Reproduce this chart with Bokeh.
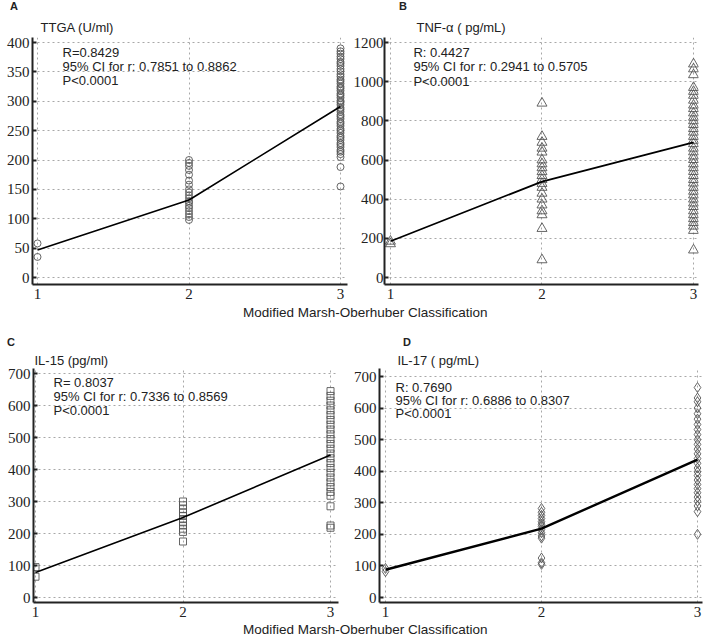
from bokeh.plotting import figure
from bokeh.models import Range1d, FixedTicker, Label, Div, Title
from bokeh.layouts import column, row
from bokeh.embed import file_html
from bokeh.resources import INLINE

# ---------------- data ----------------
groups = [1, 2, 3]
x_label = "Modified Marsh-Oberhuber Classification"

ttga_g1 = [58, 35]
ttga_g2 = [200, 195, 190, 183, 175, 165, 158, 150, 145, 140, 135, 130, 127, 122, 118, 113, 108, 103, 98]
ttga_g3 = [390, 385, 381, 376, 372, 367, 364, 360, 355, 351, 346, 342, 337, 334, 330, 325, 322, 318, 313,
           310, 306, 301, 298, 294, 289, 286, 282, 277, 274, 270, 265, 262, 258, 253, 250, 246, 241, 238,
           234, 229, 226, 222, 217, 214, 210, 205, 188, 155]
ttga_mean = [47, 132, 291]
ttga_ticks = [0, 50, 100, 150, 200, 250, 300, 350, 400]

tnf_g1 = [185, 172]
tnf_g2 = [890, 720, 690, 660, 640, 600, 580, 560, 540, 520, 500, 480, 460, 430, 400, 370, 340, 320, 250, 90]
tnf_g3 = [1090, 1065, 1035, 970, 950, 930, 905, 880, 862, 840, 818, 800, 781, 760, 742, 720, 700, 683,
          660, 641, 620, 602, 580, 560, 541, 520, 500, 482, 460, 440, 421, 400, 380, 362, 340, 320, 300,
          280, 262, 240, 140]
tnf_mean = [185, 490, 690]
tnf_ticks = [0, 200, 400, 600, 800, 1000, 1200]

il15_g1 = [95, 65]
il15_g2 = [300, 288, 276, 265, 255, 245, 235, 225, 215, 205, 175]
il15_g3 = [645, 630, 615, 600, 585, 570, 555, 540, 525, 510, 495, 480, 465, 450, 435, 420, 405, 390,
           375, 360, 345, 330, 318, 285, 225, 218]
il15_mean = [78, 250, 445]
il15_ticks = [0, 100, 200, 300, 400, 500, 600, 700]

il17_g1 = [92, 82]
il17_g2 = [282, 270, 260, 250, 240, 232, 225, 215, 205, 195, 188, 125, 110, 105]
il17_g3 = [665, 632, 620, 600, 582, 565, 548, 532, 516, 500, 485, 470, 455, 440, 425, 410, 398, 386,
           372, 358, 345, 332, 318, 305, 290, 272, 200]
il17_mean = [88, 218, 437]
il17_ticks = [0, 100, 200, 300, 400, 500, 600, 700]

panel_letters = ["A", "B", "C", "D"]
panel_titles = ["TTGA (U/ml)", "TNF-\u03b1 ( pg/mL)", "IL-15 (pg/ml)", "IL-17 ( pg/mL)"]
stats_A = ["R=0.8429", "95% CI for r: 0.7851 to 0.8862", "P<0.0001"]
stats_B = ["R: 0.4427", "95% CI for r: 0.2941  to 0.5705", "P<0.0001"]
stats_C = ["R= 0.8037", "95% CI for r: 0.7336 to 0.8569", "P<0.0001"]
stats_D = ["R: 0.7690", "95% CI for r: 0.6886 to 0.8307", "P<0.0001"]

SANS = "Liberation Sans"
SERIF = "Liberation Serif"
TXT = "#222222"


def panel(fig_box, frame_box, xa, ya, yticks, marker, msize, g1, g2, g3, means, line_w,
          title, title_off, title_standoff, stats, stats_x, stats_y, ylab_standoff=3):
    fx, fy, fw, fh = fig_box
    fl, ft, fr, fb = frame_box
    sx = (xa[1][1] - xa[0][1]) / (xa[1][0] - xa[0][0])
    sy = (ya[0][1] - ya[1][1]) / (ya[1][0] - ya[0][0])
    x_start = xa[0][0] - (xa[0][1] - fl) / sx
    x_end = xa[1][0] + (fr - xa[1][1]) / sx
    y_start = ya[0][0] - (fb - ya[0][1]) / sy
    y_end = ya[1][0] + (ya[1][1] - ft) / sy

    def dx(px):
        return xa[0][0] + (px - xa[0][1]) / sx

    def dy(py):
        return ya[0][0] + (ya[0][1] - py) / sy

    p = figure(width=fw, height=fh, x_range=Range1d(x_start, x_end), y_range=Range1d(y_start, y_end),
               output_backend="svg", toolbar_location=None,
               min_border_left=fl - fx, min_border_right=fx + fw - fr,
               min_border_top=ft - fy, min_border_bottom=fy + fh - fb)
    p.outline_line_color = None
    p.background_fill_color = "white"
    p.border_fill_color = "white"

    p.xaxis.ticker = FixedTicker(ticks=groups)
    p.yaxis.ticker = FixedTicker(ticks=yticks)
    p.xgrid.ticker = FixedTicker(ticks=groups)
    p.ygrid.ticker = FixedTicker(ticks=yticks)
    p.grid.grid_line_color = "#a8a8a8"
    p.grid.grid_line_dash = "2 3"
    p.grid.grid_line_width = 1
    for ax in (p.xaxis, p.yaxis):
        ax.axis_line_color = TXT
        ax.axis_line_width = 2
        ax.major_tick_line_color = TXT
        ax.major_tick_line_width = 2
        ax.major_tick_in = 4
        ax.major_tick_out = 0
        ax.minor_tick_line_color = None
        ax.major_label_text_font = SERIF
        ax.major_label_text_font_size = "15px"
        ax.major_label_text_color = TXT
    p.yaxis.major_label_standoff = ylab_standoff
    p.xaxis.major_tick_in = 0
    p.xaxis.major_label_standoff = 4

    pts_x = [groups[0]] * len(g1) + [groups[1]] * len(g2) + [groups[2]] * len(g3)
    pts_y = list(g1) + list(g2) + list(g3)
    p.scatter(pts_x, pts_y, marker=marker, size=msize, fill_color=None,
              line_color="#555555", line_width=0.9)
    p.line(groups, means, line_color="black", line_width=line_w)

    p.add_layout(Title(text=title, align="left", offset=title_off, standoff=title_standoff,
                       text_font=SANS, text_font_size="13px", text_font_style="normal",
                       text_color=TXT), "above")
    for s, yy in zip(stats, stats_y):
        p.add_layout(Label(x=dx(stats_x), y=dy(yy), text=s, text_font=SANS,
                           text_font_size="13px", text_color=TXT,
                           text_baseline="middle", text_align="left"))
    return p


pA = panel((0, 14, 350, 292), (32, 37, 347, 284), ((1, 37), (3, 340)), ((0, 277), (400, 42)),
           ttga_ticks, "circle", 7, ttga_g1, ttga_g2, ttga_g3, ttga_mean, 1.6,
           panel_titles[0], 8, 5, stats_A, 62, (52, 66, 80))
pB = panel((350, 14, 358, 292), (383, 37, 698, 284), ((1, 389), (3, 693)), ((0, 277), (1200, 42)),
           tnf_ticks, "triangle", 10, tnf_g1, tnf_g2, tnf_g3, tnf_mean, 1.8,
           panel_titles[1], 32, 5, stats_B, 412, (52, 66, 81), ylab_standoff=1)
pC = panel((0, 349, 350, 275), (33, 368, 338, 602), ((1, 35), (3, 330)), ((0, 597), (700, 373)),
           il15_ticks, "square", 7, il15_g1, il15_g2, il15_g3, il15_mean, 1.6,
           panel_titles[2], 1, 2, stats_C, 53, (382, 396, 410))
pD = panel((350, 349, 358, 275), (379, 368, 702, 602), ((1, 385), (3, 697)), ((0, 597), (700, 376)),
           il17_ticks, "diamond", 10, il17_g1, il17_g2, il17_g3, il17_mean, 2.4,
           panel_titles[3], 18, 2, stats_D, 395, (387, 400, 413))


def span(text, left, top, lh, font):
    return (f'<span style="position:absolute;left:{left}px;top:{top}px;line-height:{lh}px;'
            f'white-space:nowrap;font:{font};color:{TXT}">{text}</span>')


LETTER_FONT = f"bold 11px '{SANS}'"
XLAB_FONT = f"13.5px '{SANS}'"


def html_div(h, spans):
    inner = (f'<div style="position:relative;width:708px;height:{h}px;">' + "".join(spans) + "</div>")
    return Div(text=inner, width=708, height=h, margin=0)


div0 = html_div(14, [span(panel_letters[0], 10, 0, 14, LETTER_FONT),
                     span(panel_letters[1], 399, 0, 14, LETTER_FONT)])
div1 = html_div(43, [span(x_label, 243, -1, 14, XLAB_FONT),
                     span(panel_letters[2], 7, 30, 14, LETTER_FONT),
                     span(panel_letters[3], 403, 30, 14, LETTER_FONT)])
div2 = html_div(12, [span(x_label, 243, -2, 14, XLAB_FONT)])

layout = column(div0, row(pA, pB), div1, row(pC, pD), div2)

open("out.html", "w").write(file_html(layout, INLINE))
